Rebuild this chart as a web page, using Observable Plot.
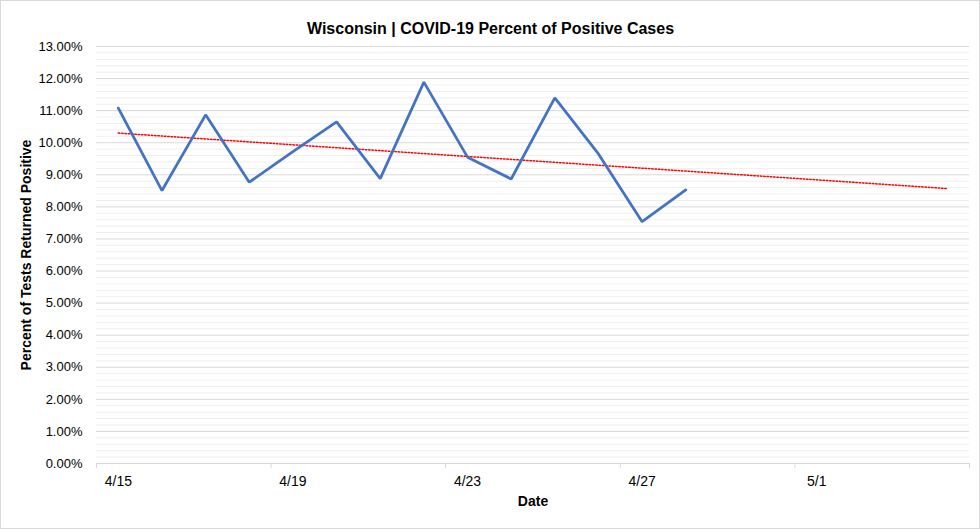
<!DOCTYPE html>
<html><head><meta charset="utf-8">
<script src="https://cdn.jsdelivr.net/npm/d3@7"></script>
<script src="https://cdn.jsdelivr.net/npm/@observablehq/plot@0.6"></script>
<style>
body{margin:0;background:#fff;}
#wrap{position:relative;width:980px;height:529px;overflow:hidden;}
#frame{position:absolute;left:0;top:0;width:980px;height:529px;box-sizing:border-box;border:1px solid #d9d9d9;pointer-events:none;}
</style></head><body><div id="wrap"><div id="frame"></div></div>
<script>
const dates = ["4/15","4/16","4/17","4/18","4/19","4/20","4/21","4/22","4/23","4/24","4/25","4/26","4/27","4/28"];
const positiveRate = [11.08, 8.51, 10.87, 8.77, 9.72, 10.65, 8.88, 11.89, 9.55, 8.87, 11.40, 9.65, 7.54, 8.53];
const trendDates = ["4/15", "5/4"];
const trendValues = [10.30, 8.57];
const tickLabels = ["4/15","4/19","4/23","4/27","5/1"];
const axisStart = "4/15", axisEnd = "5/4";
const yMajor = d3.range(0, 14, 1);
const yMinor = d3.range(0, 13, 0.2).filter(v => Math.abs(v - Math.round(v)) > 1e-6);

const DAY = 864e5;
const parse = s => { const [m, d] = s.split("/").map(Number); return new Date(Date.UTC(2020, m - 1, d)); };
const series = dates.map((d, i) => ({date: parse(d), v: positiveRate[i]}));
const trend = trendDates.map((d, i) => ({date: parse(d), v: trendValues[i]}));
const labelMap = new Map(tickLabels.map(s => [+parse(s), s]));
const x0 = new Date(+parse(axisStart) - DAY / 2), x1 = new Date(+parse(axisEnd) + DAY / 2);
const boundaries = d3.range(+x0, +x1 + 1, 4 * DAY).map(t => new Date(t)).concat([x1]);

const font = "'Liberation Sans', Arial, sans-serif";
const chart = Plot.plot({
  width: 980, height: 529,
  marginLeft: 96, marginRight: 11, marginTop: 46, marginBottom: 66,
  style: {fontFamily: font, fontSize: "13px", color: "#000", background: "transparent"},
  x: {type: "utc", domain: [x0, x1]},
  y: {domain: [0, 13]},
  marks: [
    Plot.ruleY(yMinor, {stroke: "#efefef", strokeWidth: 1}),
    Plot.ruleY(yMajor, {stroke: "#d9d9d9", strokeWidth: 1}),
    Plot.axisY(yMajor, {tickSize: 0, tickPadding: 14, tickFormat: d => d.toFixed(2) + "%", fontSize: 13, label: null}),
    Plot.axisX(boundaries, {tickSize: 5, stroke: "#d9d9d9", tickFormat: () => "", label: null}),
    Plot.axisX(tickLabels.map(parse), {tickSize: 0, tickPadding: 13, tickFormat: d => labelMap.get(+d), fontSize: 14, label: null}),
    Plot.line(trend, {x: "date", y: "v", stroke: "#ff0000", strokeWidth: 1.5, strokeDasharray: "1.5,1.8"}),
    Plot.line(series, {x: "date", y: "v", stroke: "#4472C4", strokeWidth: 2.75, strokeLinejoin: "miter"}),
    Plot.text(["Wisconsin | COVID-19 Percent of Positive Cases"], {frameAnchor: "top", dy: -24, dx: -42.5, fontWeight: "bold", fontSize: 16}),
    Plot.text(["Percent of Tests Returned Positive"], {frameAnchor: "left", textAnchor: "middle", dx: -70, rotate: -90, fontWeight: "bold", fontSize: 14}),
    Plot.text(["Date"], {frameAnchor: "bottom", dy: 42, fontWeight: "bold", fontSize: 14})
  ]
});
document.getElementById("wrap").prepend(chart);
</script>
</body></html>
